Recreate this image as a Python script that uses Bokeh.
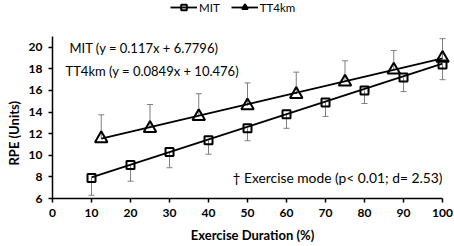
from bokeh.plotting import figure
from bokeh.models import Range1d, FixedTicker, Label, Legend, LegendItem, Title
from bokeh.embed import file_html
from bokeh.resources import INLINE

# ---- data ----
mit_x = [10, 20, 30, 40, 50, 60, 70, 80, 90, 100]
mit_y = [7.9, 9.1, 10.3, 11.4, 12.5, 13.8, 14.9, 16.0, 17.2, 18.4]
mit_sd = [1.6, 1.5, 1.45, 1.3, 1.15, 1.3, 1.3, 1.2, 1.3, 1.4]

tt_x = [12.5, 25, 37.5, 50, 62.5, 75, 87.5, 100]
tt_y = [11.55, 12.5, 13.6, 14.6, 15.65, 16.8, 17.9, 19.0]
tt_sd = [2.2, 2.2, 2.1, 2.1, 2.05, 1.95, 1.8, 1.8]

# trendline end points
mit_trend_x = [10, 100]
mit_trend_y = [7.95, 18.48]
tt_trend_x = [12.5, 100]
tt_trend_y = [11.54, 18.97]

x_ticks = [0, 10, 20, 30, 40, 50, 60, 70, 80, 90, 100]
y_ticks = [6, 8, 10, 12, 14, 16, 18, 20]

mit_label = "MIT (y = 0.117x + 6.7796)"
tt_label = "TT4km (y = 0.0849x + 10.476)"
note_label = "\u2020 Exercise mode (p< 0.01; d= 2.53)"

FONT = "Lato"

# frame spans the full canvas height above the x axis so the legend is not clipped;
# the y axis itself is bounded to 6..21
p = figure(width=454, height=246, output_backend="svg", toolbar_location=None,
           x_range=Range1d(0, 102.56), y_range=Range1d(6, 24.333),
           min_border_left=52, min_border_right=2, min_border_top=0, min_border_bottom=48)
p.outline_line_color = None
p.grid.visible = False
p.background_fill_color = "white"
p.border_fill_color = "white"

for ax in (p.xaxis[0], p.yaxis[0]):
    ax.axis_line_color = "black"
    ax.axis_line_width = 1.5
    ax.major_tick_line_color = "black"
    ax.major_tick_line_width = 1.5
    ax.major_tick_out = 4
    ax.major_tick_in = 0
    ax.minor_tick_line_color = None
    ax.major_label_text_font = FONT
    ax.major_label_text_font_style = "bold"
    ax.major_label_text_font_size = "12px"
    ax.major_label_text_color = "black"
    ax.axis_label_text_font = FONT
    ax.axis_label_text_font_style = "bold"
    ax.axis_label_text_font_size = "13px"
    ax.axis_label_text_color = "black"

p.xaxis.ticker = FixedTicker(ticks=x_ticks)
p.yaxis.ticker = FixedTicker(ticks=y_ticks)
p.xaxis.bounds = (0, 100)
p.yaxis.bounds = (6, 21)
p.xaxis.axis_label = "Exercise Duration (%)"
p.xaxis.major_label_standoff = 6
p.yaxis.major_label_standoff = 6
p.xaxis.axis_label_standoff = 7

p.add_layout(Title(text="RPE (Units)", align="left", offset=33, vertical_align="top",
                   text_font=FONT, text_font_style="bold", text_font_size="13px",
                   text_color="black", standoff=4), "left")

grey = "#7f7f7f"
# error bars: MIT downward, TT4km upward
mit_lo = [y - s for y, s in zip(mit_y, mit_sd)]
tt_hi = [y + s for y, s in zip(tt_y, tt_sd)]
p.segment(x0=mit_x, y0=mit_y, x1=mit_x, y1=mit_lo, line_color=grey, line_width=1)
p.scatter(x=mit_x, y=mit_lo, marker="dash", size=6, line_color=grey, line_width=1)
p.segment(x0=tt_x, y0=tt_y, x1=tt_x, y1=tt_hi, line_color=grey, line_width=1)
p.scatter(x=tt_x, y=tt_hi, marker="dash", size=6, line_color=grey, line_width=1)

# trend lines
l1 = p.line(mit_trend_x, mit_trend_y, line_color="black", line_width=1.8)
l2 = p.line(tt_trend_x, tt_trend_y, line_color="black", line_width=1.8)

# markers
s1 = p.scatter(x=mit_x, y=mit_y, marker="square", size=8, fill_color=None,
               line_color="black", line_width=2)
s2 = p.scatter(x=tt_x, y=tt_y, marker="triangle", size=12.5, fill_color=None,
               line_color="black", line_width=2)

legend = Legend(items=[LegendItem(label="MIT", renderers=[l1, s1]),
                       LegendItem(label="TT4km", renderers=[l2, s2])],
                location=(118, 184), orientation="horizontal",
                border_line_color=None, background_fill_alpha=0,
                padding=0, margin=0, spacing=11, label_standoff=2,
                glyph_width=27, glyph_height=14, label_height=14,
                label_text_font=FONT, label_text_font_size="11.5px",
                label_text_color="black")
p.add_layout(legend, "center")

p.add_layout(Label(x=4.36, y=19.94, text=mit_label, text_font=FONT, text_font_size="13px",
                   text_baseline="middle", text_color="black"))
p.add_layout(Label(x=3.33, y=17.76, text=tt_label, text_font=FONT, text_font_size="13px",
                   text_baseline="middle", text_color="black"))
p.add_layout(Label(x=46.15, y=7.9, text=note_label, text_font=FONT, text_font_size="13.8px",
                   text_baseline="middle", text_color="black"))

open("out.html", "w").write(file_html(p, INLINE))
